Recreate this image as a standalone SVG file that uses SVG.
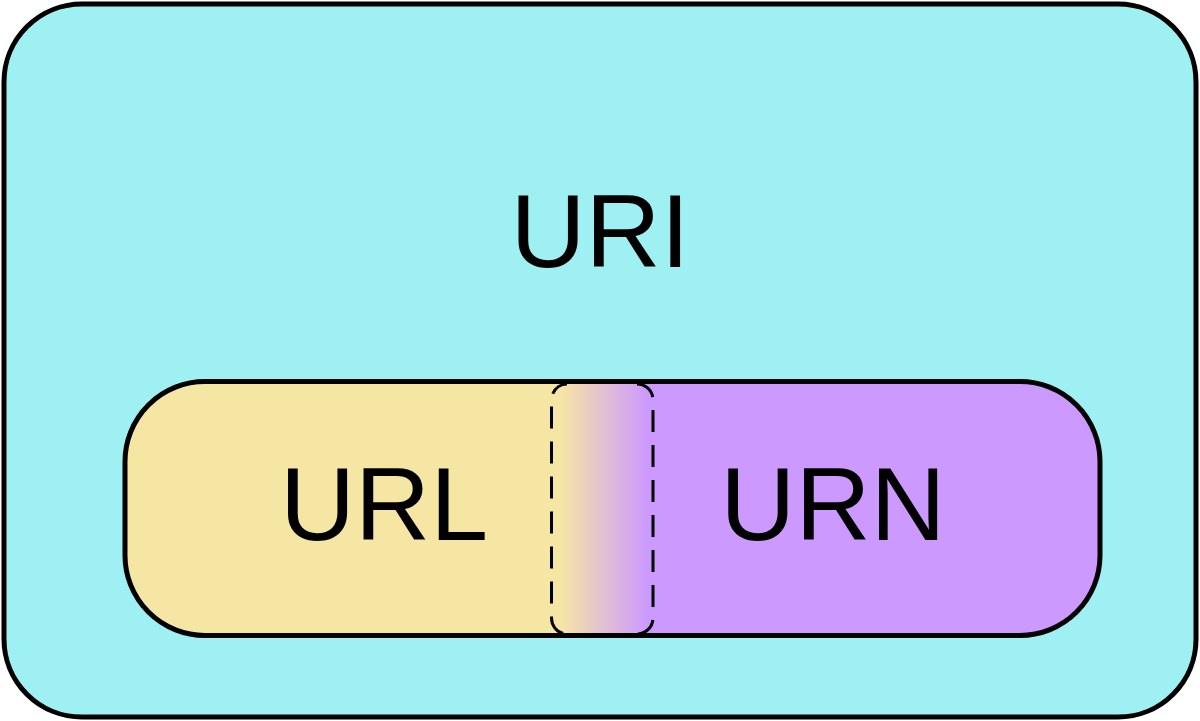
<svg xmlns="http://www.w3.org/2000/svg" width="1200" height="721" viewBox="0 0 1200 721">
<defs>
<linearGradient id="g" gradientUnits="userSpaceOnUse" x1="560" y1="0" x2="648" y2="0">
<stop offset="0" stop-color="#F6E6A4"/>
<stop offset="1" stop-color="#CC99FF"/>
</linearGradient>
<style>
.t{font-family:"Liberation Sans",Arial,sans-serif;font-size:104px;fill:#000;text-anchor:middle}
.b{stroke:#000;stroke-width:5}
.d{fill:none;stroke:#000;stroke-width:3;stroke-dasharray:22 13}
</style>
</defs>
<g id="uri">
<rect class="b" x="4" y="4" width="1192" height="713" rx="78" fill="#9EF0F2"/>
<text class="t" x="600" y="267">URI</text>
</g>
<g id="urlurn">
<rect x="125" y="381.5" width="975" height="254" rx="80" fill="url(#g)"/>
</g>
<g id="overlap">
<path class="d" d="M637,384 A16,16 0 0 1 653,400 V618 A16,16 0 0 1 637,634"/>
<path class="d" d="M567,634 A15.5,16 0 0 1 551.5,618 V400 A15.5,16 0 0 1 567,384" stroke-dashoffset="-4"/>
</g>
<g id="outline">
<rect class="b" x="125" y="381.5" width="975" height="254" rx="80" fill="none"/>
</g>
<g id="url"><text class="t" x="384" y="540">URL</text></g>
<g id="urn"><text class="t" x="833" y="540">URN</text></g>
</svg>
